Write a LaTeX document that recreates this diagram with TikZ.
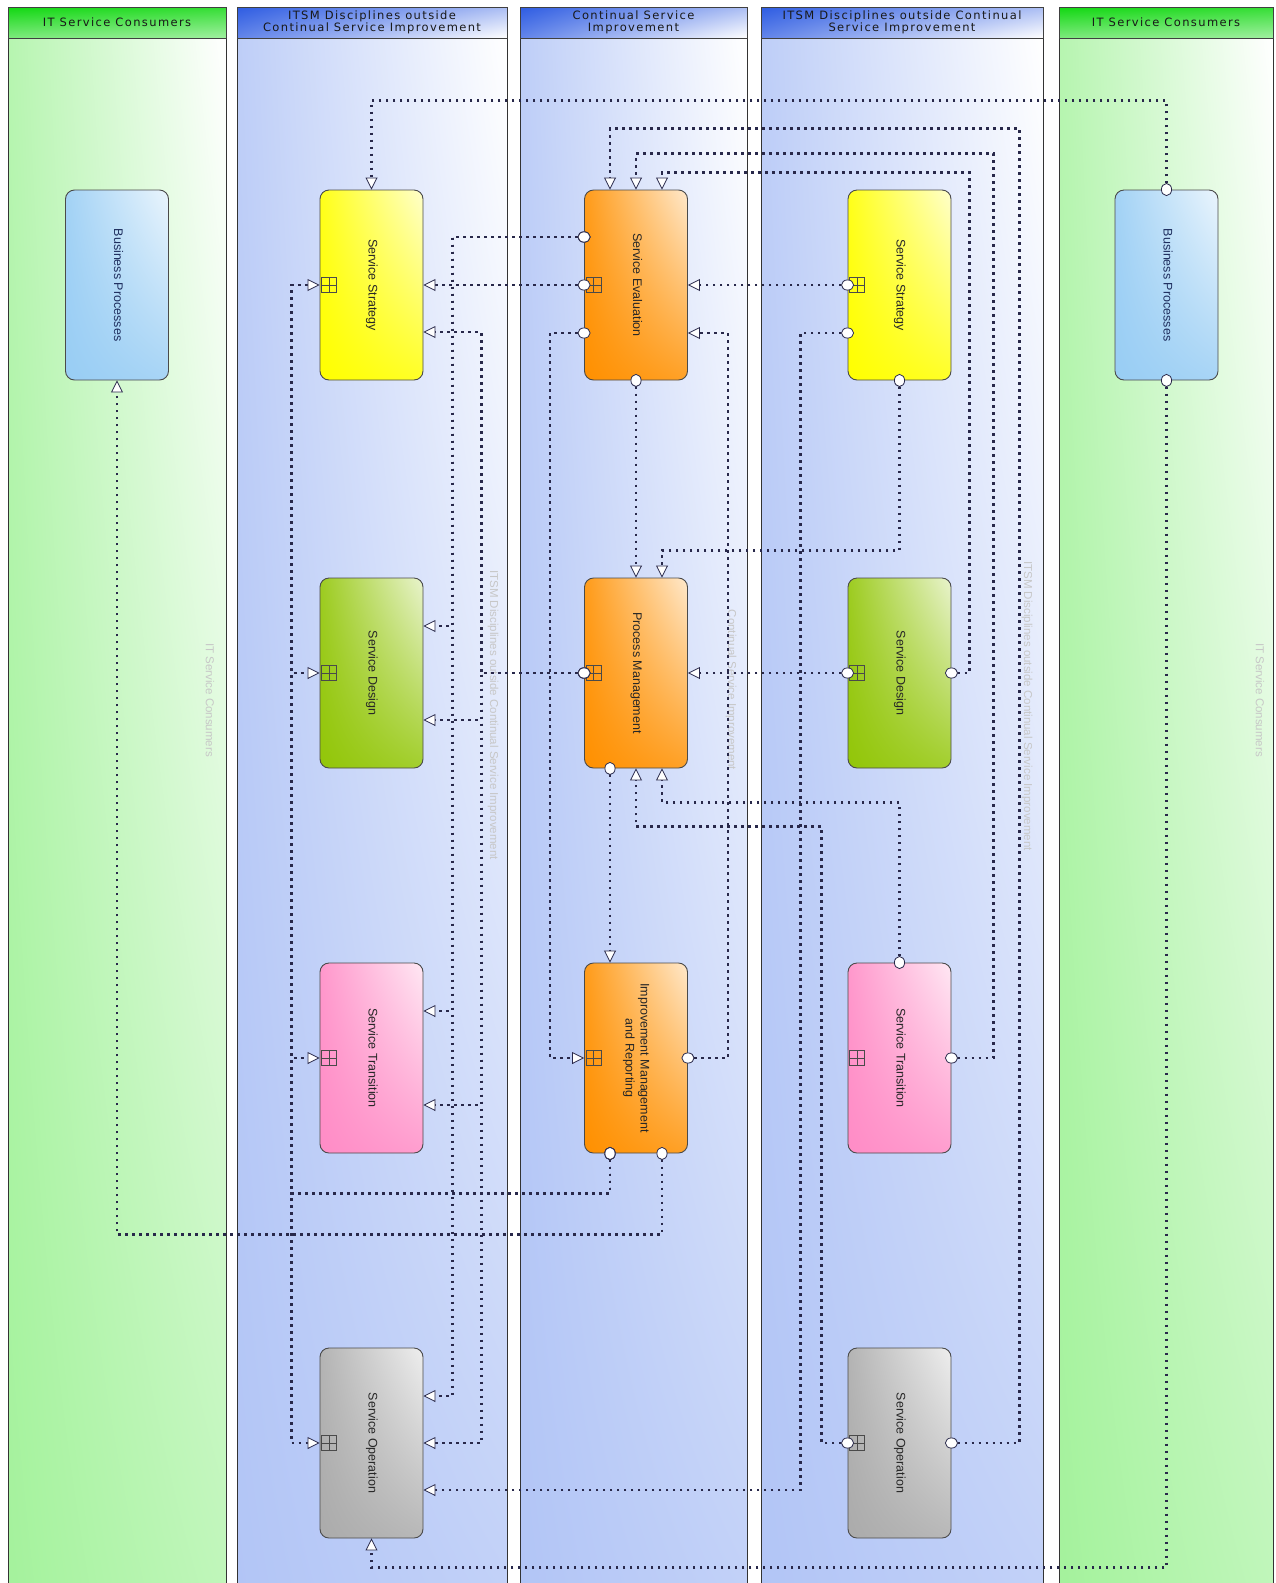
\documentclass[tikz,border=0pt]{standalone}
\usepackage{fontspec}
\setmainfont{Liberation Sans}
\newfontfamily\headfont[LetterSpace=12]{DejaVu Sans}
\usepackage{graphicx}
\usepackage{tikz}
\usetikzlibrary{arrows.meta,shadings}

\definecolor{LinkBlue}{HTML}{28284A}
\definecolor{EdgeGray}{HTML}{4A4A4A}
\definecolor{LaneGreen}{HTML}{A4F29C}
\definecolor{LaneBlue}{HTML}{B2C5F6}
\definecolor{HeadGreen}{HTML}{12D812}
\definecolor{HeadBlue}{HTML}{2E5CE2}
\definecolor{BizBlue}{HTML}{98CDF4}
\definecolor{BizText}{HTML}{1E2E5E}
\definecolor{StratYellow}{HTML}{FFFF00}
\definecolor{DesignGreen}{HTML}{92C608}
\definecolor{TransPink}{HTML}{FF8CC6}
\definecolor{OperGray}{HTML}{ABABAB}
\definecolor{CsiOrange}{HTML}{FF9000}

\newcommand{\boxlabel}[1]{\rotatebox{-90}{\begin{tabular}{@{}c@{}}#1\end{tabular}}}

\tikzset{
  lanehead/.style={draw=black!75,line width=0.8pt,minimum height=31pt,inner sep=0pt,
    align=center,text=black!90,font=\headfont\fontsize{11.5}{12.5}\selectfont},
  greenhead/.style={lanehead,shade,upper left=HeadGreen,upper right=HeadGreen!85!white,
    lower left=HeadGreen!55!white,lower right=HeadGreen!40!white},
  bluehead/.style={lanehead,shade,upper left=HeadBlue,lower left=HeadBlue!75!white,
    upper right=HeadBlue!40!white,lower right=white},
  greenlane/.style={draw=black!80,line width=1pt,shade,upper left=LaneGreen!80!white,
    upper right=white,lower left=LaneGreen,lower right=LaneGreen!70!white},
  bluelane/.style={draw=black!80,line width=1pt,shade,upper left=LaneBlue!85!white,
    upper right=white,lower left=LaneBlue,lower right=LaneBlue!80!white},
  lanetag/.style={rotate=-90,text=black!22,font=\fontsize{11.5}{13}\selectfont},
  boxtint/.style={upper left=#1!90!white,upper right=#1!20!white,lower left=#1,
    lower right=#1!85!white},
  proc/.style={draw=EdgeGray,line width=0.9pt,rounded corners=9pt,minimum width=103pt,
    minimum height=190pt,inner sep=0pt,shade,text=black!85,font=\fontsize{12.5}{15}\selectfont},
  bizbox/.style={proc,boxtint=BizBlue,text=BizText},
  stratbox/.style={proc,boxtint=StratYellow},
  designbox/.style={proc,boxtint=DesignGreen},
  transbox/.style={proc,boxtint=TransPink},
  operbox/.style={proc,boxtint=OperGray},
  csibox/.style={proc,boxtint=CsiOrange},
  subproc/.style={draw=EdgeGray,line width=0.7pt},
  link/.style={draw=LinkBlue,line width=2.2pt,dash pattern=on 2.8pt off 4.2pt,
    {Ellipse[fill=white,length=13pt,width=11pt,line width=0.8pt]}-{Triangle[fill=white,length=12pt,width=12pt,line width=0.8pt]},
    shorten <=-6.5pt}
}

\begin{document}
\begin{tikzpicture}[x=1pt,y=-1pt]
                      \useasboundingbox (0,0) rectangle (1275,1583);
                      \draw[greenlane] (8,38) rectangle (226,1600);
                      \draw[bluelane] (237,38) rectangle (507,1600);
                      \draw[bluelane] (520,38) rectangle (747,1600);
                      \draw[bluelane] (761,38) rectangle (1043,1600);
                      \draw[greenlane] (1059,38) rectangle (1273,1600);
                      \node[greenhead,minimum width=218pt] (Head1) at (117,22.5) {IT Service Consumers};
                      \node[bluehead,minimum width=270pt] (Head2) at (372,22.5) {ITSM Disciplines outside\\Continual Service Improvement};
                      \node[bluehead,minimum width=227pt] (Head3) at (633.5,22.5) {Continual Service\\Improvement};
                      \node[bluehead,minimum width=282pt] (Head4) at (902,22.5) {ITSM Disciplines outside Continual\\Service Improvement};
                      \node[greenhead,minimum width=214pt] (Head5) at (1166,22.5) {IT Service Consumers};
                      \node[lanetag] (Tag1) at (210,700) {IT Service Consumers};
                      \node[lanetag] (Tag2) at (493,715) {ITSM Disciplines outside Continual Service Improvement};
                      \node[lanetag] (Tag3) at (731,690) {Continual Service Improvement};
                      \node[lanetag] (Tag4) at (1027,706) {ITSM Disciplines outside Continual Service Improvement};
                      \node[lanetag] (Tag5) at (1260,700) {IT Service Consumers};
                      \node[bizbox] (BP1) at (117,285) {\boxlabel{Business Processes}};
                      \node[bizbox] (BP2) at (1166.5,285) {\boxlabel{Business Processes}};
                      \node[stratbox] (SS1) at (371.5,285) {\boxlabel{Service Strategy}};
                      \node[designbox] (SD1) at (371.5,673) {\boxlabel{Service Design}};
                      \node[transbox] (ST1) at (371.5,1058) {\boxlabel{Service Transition}};
                      \node[operbox] (SO1) at (371.5,1443) {\boxlabel{Service Operation}};
                      \node[csibox] (SE) at (636,285) {\boxlabel{Service Evaluation}};
                      \node[csibox] (PM) at (636,673) {\boxlabel{Process Management}};
                      \node[csibox] (IM) at (636,1058) {\boxlabel{Improvement Management\\and Reporting}};
                      \node[stratbox] (SS2) at (899.5,285) {\boxlabel{Service Strategy}};
                      \node[designbox] (SD2) at (899.5,673) {\boxlabel{Service Design}};
                      \node[transbox] (ST2) at (899.5,1058) {\boxlabel{Service Transition}};
                      \node[operbox] (SO2) at (899.5,1443) {\boxlabel{Service Operation}};
                      \foreach \n in {SS1,SD1,ST1,SO1,SE,PM,IM,SS2,SD2,ST2,SO2}
                        \draw[subproc] ([xshift=2pt,yshift=7.5pt]\n.west) rectangle ++(15,15)
                          ([xshift=9.5pt,yshift=7.5pt]\n.west) -- ++(0,15)
                          ([xshift=2pt]\n.west) -- ++(15,0);
                      \draw[link] (BP2.north) -- ++(0,-89) -| (SS1.north);
                      \draw[link] (BP2.south) -- ++(0,1187) -| (SO1.south);
                      \draw[link] ([xshift=26pt]IM.south) -- ++(0,81) -| (BP1.south);
                      \foreach \n in {SS1,SD1,ST1,SO1}
                        \draw[link] ([xshift=-26pt]IM.south) -- ++(0,40) -| ([xshift=-28pt]\n.west) -- (\n.west);
                      \foreach \n in {SD1,ST1,SO1}
                        \draw[link] ([yshift=48pt]SE.west) -| ([xshift=29pt,yshift=47pt]\n.east) -- ([yshift=47pt]\n.east);
                      \draw[link] (SE.west) -- (SS1.east);
                      \foreach \n/\s in {SS1/-47,SD1/-47,ST1/-47,SO1/0}
                        \draw[link] (PM.west) -| ([xshift=58pt,yshift=\s pt]\n.east) -- ([yshift=\s pt]\n.east);
                      \draw[link] ([yshift=-48pt]SE.west) -| ([xshift=-34pt]IM.west) -- (IM.west);
                      \draw[link] (SE.south) -- (PM.north);
                      \draw[link] ([xshift=-26pt]PM.south) -- ([xshift=-26pt]IM.north);
                      \draw[link] (IM.east) -| ([xshift=40pt,yshift=-48pt]SE.east) -- ([yshift=-48pt]SE.east);
                      \draw[link] (SS2.west) -- (SE.east);
                      \draw[link] (SD2.west) -- (PM.east);
                      \draw[link] (SS2.south) -- ++(0,170) -| ([xshift=26pt]PM.north);
                      \draw[link] (SD2.east) -- ++(18,0) |- ([xshift=26pt,yshift=17pt]SE.north) -- ([xshift=26pt]SE.north);
                      \draw[link] (ST2.east) -- ++(42,0) |- ([yshift=36pt]SE.north) -- (SE.north);
                      \draw[link] (SO2.east) -- ++(68,0) |- ([xshift=-26pt,yshift=61pt]SE.north) -- ([xshift=-26pt]SE.north);
                      \draw[link] (ST2.north) -- ++(0,-160) -| ([xshift=26pt]PM.south);
                      \draw[link] (SO2.west) -- ++(-26,0) |- ([yshift=-58pt]PM.south) -- (PM.south);
                      \draw[link] ([yshift=-48pt]SS2.west) -| ([xshift=377pt,yshift=-47pt]SO1.east) -- ([yshift=-47pt]SO1.east);
\end{tikzpicture}
\end{document}
